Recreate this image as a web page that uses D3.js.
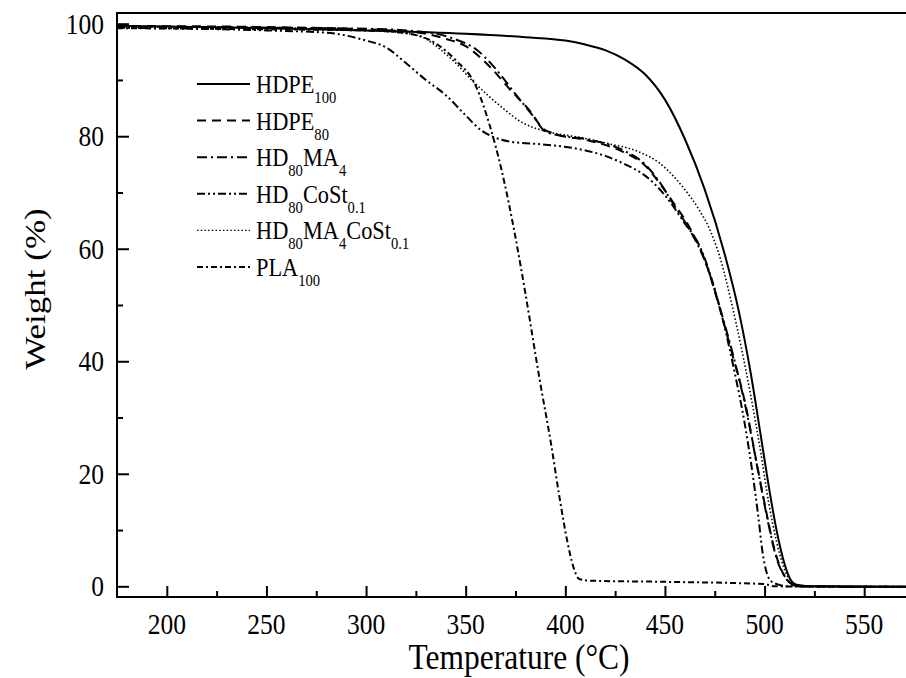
<!DOCTYPE html>
<html>
<head>
<meta charset="utf-8">
<script src="https://cdn.jsdelivr.net/npm/d3@7"></script>
<style>
  body { margin: 0; background: #fff; }
  svg { display: block; font-family: "Liberation Serif", "Times New Roman", serif; }
</style>
</head>
<body>
<div id="chart"></div>
<script>
// TGA curves, [temperature °C, weight %]
const hdpe100 = [[175,99.6],[200,99.5],[250,99.2],[300,98.8],[350,98.2],[380,97.6],[400,97],[410,96.3],[420,95.3],[430,93.6],[440,91],[450,86.5],[460,79.5],[470,70.5],[480,59],[487,49],[493,38],[498,27],[502,18],[506,10],[510,4],[513,1.2],[516,0.3],[525,0],[575,-0.1]];
const hdpe80 = [[175,99.6],[250,99.4],[300,99],[330,98.2],[340,97.3],[350,96],[362,92.4],[373,88],[382,84.6],[389,81.3],[395,80.4],[412,79.2],[429,77.2],[440,74.8],[447,71.8],[454,68.3],[462,64],[470,58],[477,50],[484,41],[490,33],[496,22],[501,13],[505,6.5],[509,2.5],[513,0.6],[517,0],[575,-0.1]];
const hd80ma4 = [[175,99.5],[250,99.3],[300,99.1],[330,98.5],[345,97.2],[355,95.5],[365,92],[375,87.5],[384,83.5],[390,80.8],[396,80.2],[412,79.4],[429,77.5],[440,75],[448,71.5],[455,67.5],[463,63],[471,57],[478,49],[485,40],[491,31],[497,20],[502,11],[506,5],[510,1.8],[514,0.3],[518,0],[575,-0.1]];
const hd80cost = [[175,99.3],[250,98.8],[280,98.4],[300,97],[310,95.8],[320,93],[330,90],[340,87.3],[350,83.7],[358,81],[363,80],[373,79],[390,78.5],[407,77.7],[420,76.5],[430,75],[440,73],[450,69.5],[459,65],[468,60],[474,54],[480,46],[485,38],[490,29],[494,20],[497,12],[499,6],[501,2.5],[503,1],[507,0.3],[512,0],[575,-0.1]];
const hd80ma4cost = [[175,99.5],[250,99.3],[300,98.8],[320,98.3],[330,97.3],[337,95.5],[345,93],[353,90],[362,87],[370,84.6],[378,82.5],[387,81.2],[395,80.5],[407,79.8],[420,78.8],[437,77.2],[447,75.3],[454,73],[460,70.5],[467,67],[473,63],[478,58],[483,51],[488,43],[493,34],[498,24],[502,15],[506,8],[510,3],[513,1],[517,0.2],[525,0],[575,-0.1]];
const pla100 = [[175,99.2],[250,99],[300,98.8],[320,98.3],[335,96.5],[345,93.5],[355,89],[362,82],[368,74],[375,62],[380,52],[387,37],[393,25],[397,16],[401,8],[404,3.5],[407,1.3],[412,1.0],[450,0.8],[500,0.4],[505,0],[575,-0.1]];

const seriesNames = ["HDPE|100", "HDPE|80", "HD|80|MA|4", "HD|80|CoSt|0.1", "HD|80|MA|4|CoSt|0.1", "PLA|100"];
const seriesData = [hdpe100, hdpe80, hd80ma4, hd80cost, hd80ma4cost, pla100];
const seriesDash = ["none", "9,6", "10,4,2,4", "8,3,2,3,2,3", "1.5,2.2", "6,3,2,3"];

const xTicks = [200, 250, 300, 350, 400, 450, 500, 550];
const yTicks = [0, 20, 40, 60, 80, 100];

const W = 906, H = 678;
const margin = { left: 117, top: 13, right: -8, bottom: 81 };
const squish = 0.88; // the source figure is a bit narrower than tall

const svg = d3.select("#chart").append("svg")
  .attr("width", W).attr("height", H);

const x = d3.scaleLinear().domain([175, 575]).range([margin.left, W - margin.right]);
const y = d3.scaleLinear().domain([-1.9, 101.9]).range([H - margin.bottom, margin.top]);

const plot = svg.append("g");

// curves
const line = d3.line().x(d => x(d[0])).y(d => y(d[1])).curve(d3.curveMonotoneX);
plot.selectAll("path.curve")
  .data(seriesData)
  .join("path")
  .attr("class", "curve")
  .attr("d", line)
  .attr("fill", "none")
  .attr("stroke", "#000")
  .attr("stroke-width", (d, i) => i === 4 ? 1.6 : 2)
  .attr("stroke-dasharray", (d, i) => seriesDash[i]);

// frame
svg.append("path")
  .attr("d", `M${x(575)},${y(101.9)}H${x(175)}V${y(-1.9)}H${x(575)}`)
  .attr("fill", "none").attr("stroke", "#000").attr("stroke-width", 2);

// x axis, ticks inward
const xAxis = svg.append("g")
  .attr("transform", `translate(0,${y(-1.9)})`)
  .call(d3.axisBottom(x).tickValues(d3.range(200, 576, 25)).tickSize(-11).tickFormat(""));
xAxis.select(".domain").remove();
xAxis.selectAll(".tick line")
  .attr("stroke-width", 2)
  .attr("y2", d => d % 50 === 0 ? -11 : -6);

svg.append("g").selectAll("text")
  .data(xTicks)
  .join("text")
  .attr("transform", d => `translate(${x(d)},${y(-1.9) + 37}) scale(${squish},1)`)
  .attr("text-anchor", "middle")
  .attr("font-size", 29)
  .text(d => d);

// y axis, ticks inward
const yAxis = svg.append("g")
  .attr("transform", `translate(${x(175)},0)`)
  .call(d3.axisLeft(y).tickValues(d3.range(0, 101, 10)).tickSize(-12).tickFormat(""));
yAxis.select(".domain").remove();
yAxis.selectAll(".tick line")
  .attr("stroke-width", 2)
  .attr("x2", d => d % 20 === 0 ? 12 : 6);

svg.append("g").selectAll("text")
  .data(yTicks)
  .join("text")
  .attr("transform", d => `translate(${x(175) - 13},${y(d)}) scale(${squish},1)`)
  .attr("dy", "0.35em")
  .attr("text-anchor", "end")
  .attr("font-size", 29)
  .text(d => d);

// axis titles
svg.append("text")
  .attr("transform", `translate(519,669) scale(0.9,1)`)
  .attr("text-anchor", "middle")
  .attr("font-size", 35)
  .text("Temperature (°C)");

svg.append("text")
  .attr("transform", `translate(45,289) scale(0.85,1) rotate(-90)`)
  .attr("text-anchor", "middle")
  .attr("font-size", 35)
  .text("Weight (%)");

// legend
const legend = svg.append("g").attr("transform", "translate(197,84)");
const rows = legend.selectAll("g")
  .data(seriesNames)
  .join("g")
  .attr("transform", (d, i) => `translate(0,${i * 36.6})`);

rows.append("line")
  .attr("x1", 0).attr("x2", 53)
  .attr("stroke", "#000")
  .attr("stroke-width", (d, i) => i === 4 ? 1.4 : 2)
  .attr("stroke-dasharray", (d, i) => seriesDash[i]);

rows.append("text")
  .attr("transform", "translate(59,9) scale(0.86,1)")
  .attr("font-size", 26)
  .each(function(d) {
    const parts = d.split("|");
    const t = d3.select(this);
    parts.forEach((p, k) => {
      if (k % 2 === 0) {
        t.append("tspan").attr("font-size", 26).attr("dy", k === 0 ? 0 : -10).text(p);
      } else {
        t.append("tspan").attr("font-size", 17).attr("dy", 10).text(p);
      }
    });
  });
</script>
</body>
</html>
